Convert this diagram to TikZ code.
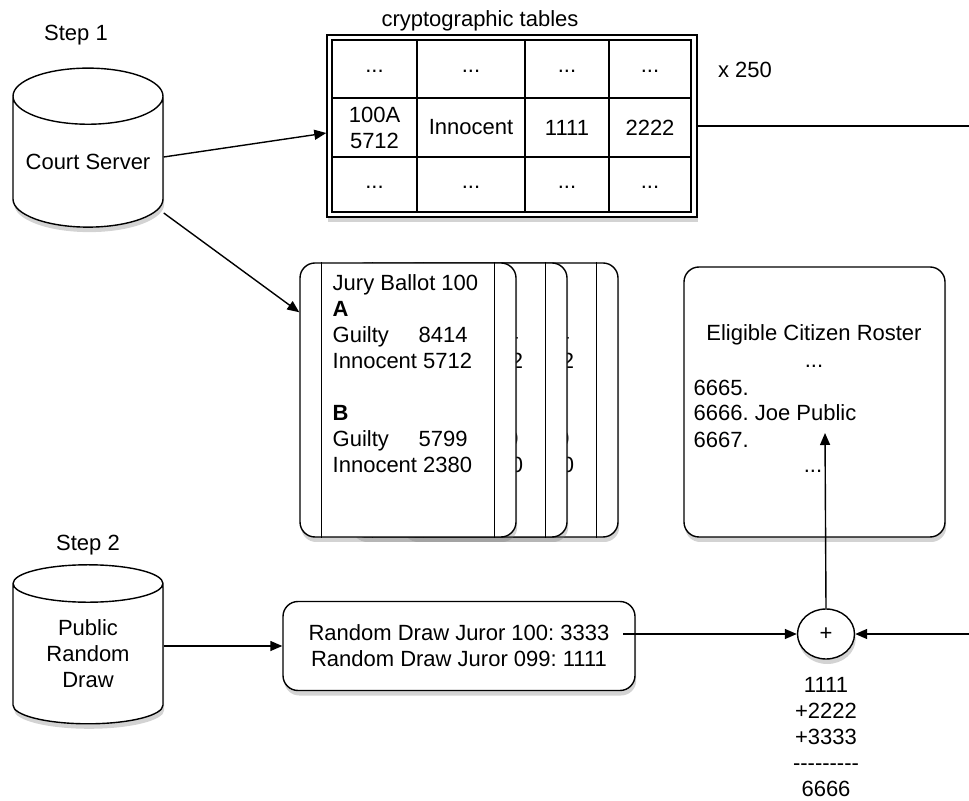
\documentclass[tikz,border=0pt]{standalone}
\usepackage{fontspec}
\setmainfont{Liberation Sans}
\usetikzlibrary{shapes.geometric,shadows,arrows.meta}

\newcommand{\guilty}{\makebox[43pt][l]{Guilty}}
\newcommand{\hy}{\mbox{-}}

\tikzset{
  box/.style={draw, fill=white, line width=0.7pt,
    drop shadow={opacity=0.35, shadow xshift=0.6pt, shadow yshift=-2.5pt}},
  db/.style={box, cylinder, shape border rotate=90, aspect=0.45,
    minimum width=75pt, minimum height=79.5pt, align=center},
  card/.style={box, rounded corners=7.5pt, minimum width=108pt, minimum height=137pt},
  arr/.style={-{Triangle[length=6pt,width=5pt]}, line width=0.7pt},
}

\begin{document}
\frenchspacing
\begin{tikzpicture}[x=0.5pt, y=-0.5pt, inner sep=0pt, line width=0.7pt,
  font=\fontsize{11}{13}\selectfont]
\useasboundingbox (0,0) rectangle (969,801);

% step 1
\node (step1) at (76,35) {Step 1};
\node[db] (court) at (88,162) {Court Server};

% cryptographic tables
\node (tbltitle) at (480,21) {cryptographic tables};
\node[box, minimum width=185pt, minimum height=91pt] (tbl) at (512,126) {};
\draw (332,40) rectangle (691,212);
\foreach \x in {417,525,609} \draw (\x,40) -- (\x,212);
\foreach \y in {98,157} \draw (332,\y) -- (691,\y);
\foreach \x in {374.5,471,567,650} {
  \node at (\x,71) {...};
  \node at (\x,187) {...};
}
\node[align=center] (c100a) at (374.5,127.5) {100A\\5712};
\node (cinn) at (471,127.5) {Innocent};
\node (c1111) at (567,127.5) {1111};
\node (c2222) at (650,127.5) {2222};
\node (times) at (745,70) {x 250};

% ballots, back to front
\foreach \i in {2,1,0} {
  \node[card] (ballot\i) at (408+51*\i,400) {};
  \draw ([xshift=11pt]ballot\i.north west) -- ([xshift=11pt]ballot\i.south west);
  \draw ([xshift=-11pt]ballot\i.north east) -- ([xshift=-11pt]ballot\i.south east);
  \ifnum\i=0
    \def\btitle{Jury Ballot 100}
  \else
    \def\btitle{\phantom{Jury Ballot 100}}
  \fi
  \node[anchor=north west, align=left] (btext\i) at (332+51*\i,274)
    {\btitle\\\textbf{A}\\\guilty 8414\\Innocent 5712\\[13pt]
     \textbf{B}\\\guilty 5799\\Innocent 2380};
}

% roster
\node[box, rounded corners=7.5pt, minimum width=130.5pt, minimum height=135pt] (roster) at (814.5,402) {};
\node (rtitle) at (814,335) {Eligible Citizen Roster};
\node (rdots1) at (814,366) {...};
\node[anchor=west] (r6665) at (693,388) {6665.};
\node[anchor=west] (r6666) at (693,413) {6666. Joe Public};
\node[anchor=west] (r6667) at (693,440) {6667.};
\node (rdots2) at (813,471) {...};

% step 2
\node (step2) at (88,545) {Step 2};
\node[db] (pub) at (88,654) {Public\\Random\\Draw};
\node[box, rounded corners=7.5pt, minimum width=176pt, minimum height=44.5pt, align=center] (rdraw) at (459,646)
  {Random Draw Juror 100: 3333\\Random Draw Juror 099: 1111};

\node[box, ellipse, minimum width=28.5pt, minimum height=25pt] (plus) at (826,634) {+};
\node[align=center, anchor=north] (sum) at (826,677)
  {1111\\+2222\\+3333\\\hy\hy\hy\hy\hy\hy\hy\hy\hy\\6666};

% connectors
\coordinate (east1) at (969,126);
\coordinate (east2) at (969,634);
\coordinate (draw100) at (623,634);
\coordinate (joe) at (825,433);

\draw[arr] ([yshift=2.5pt]court.east) -- ([yshift=-3.5pt]tbl.west);
\draw[arr] ([yshift=-25.5pt]court.east) -- ([yshift=-25pt]ballot0.north west);
\draw (tbl.east) -- (east1);
\draw[arr] (pub.east |- rdraw.west) -- (rdraw.west);
\draw[arr] (draw100) -- (plus.west);
\draw[arr] (east2) -- (plus.east);
\draw[arr] (plus.north) -- (joe);

\end{tikzpicture}
\end{document}
